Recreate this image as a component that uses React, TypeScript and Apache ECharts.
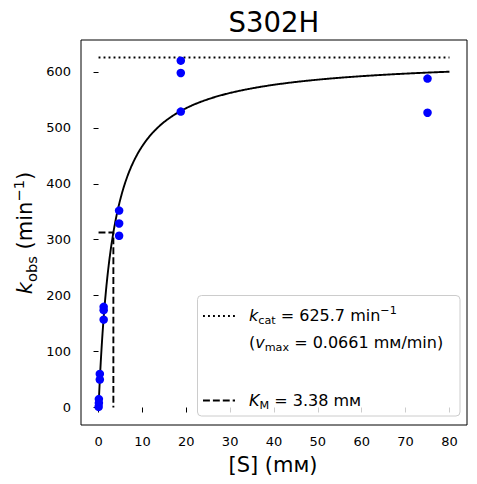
import React, { useEffect, useRef } from "react";
import * as echarts from "echarts";

// Measured data (substrate concentration in mM, observed rate in min^-1)
const substrateMM = [0.018, 0.073, 0.073, 0.29, 0.29, 1.17, 1.17, 1.17, 4.69, 4.69, 4.69, 18.75, 18.75, 18.75, 75, 75];
const kObsPerMin = [1, 8, 15, 50, 60, 180, 174, 157, 352, 329, 307, 620, 598, 529, 588, 527];

// Fitted Michaelis–Menten parameters (from the legend)
const kcat = 625.7;
const KM = 3.38;
const vmax = 0.0661;
const fitStart = 0;
const fitEnd = 80;
const fitSteps = 800;

const xTicks = [0, 10, 20, 30, 40, 50, 60, 70, 80];
const yTicks = [0, 100, 200, 300, 400, 500, 600];

const FONT = "DejaVu Sans";

export default function App() {
  const ref = useRef<HTMLDivElement>(null);

  useEffect(() => {
    if (!ref.current) return;
    const chart = echarts.init(ref.current, null, { renderer: "svg" });

    const fitData: number[][] = [];
    for (let i = 0; i <= fitSteps; i++) {
      const s = fitStart + ((fitEnd - fitStart) * i) / fitSteps;
      fitData.push([s, (kcat * s) / (KM + s)]);
    }
    const points = substrateMM.map((s, i) => [s, kObsPerMin[i]]);

    const yMin = -0.05 * kcat;
    const yMax = kcat * 1.05;

    const base = { fontFamily: FONT, fill: "#000" };
    const richFor = (fs: number, H: number) => ({
      n: { ...base, fontSize: fs, lineHeight: H },
      i: { ...base, fontSize: fs, lineHeight: H, fontStyle: "italic" },
      sub: { ...base, fontSize: fs * 0.7, lineHeight: H * 0.55, verticalAlign: "bottom" },
      sup: { ...base, fontSize: fs * 0.7, lineHeight: H * 0.5, verticalAlign: "top" },
    });

    const textEl = (text: string, x: number, y: number, fs: number, H: number, align: string, rotation = 0) => ({
      type: "text",
      x,
      y,
      rotation,
      silent: true,
      z: 100,
      style: {
        text,
        rich: richFor(fs, H),
        fontFamily: FONT,
        fontSize: fs,
        fill: "#000",
        align,
        verticalAlign: "middle",
        textAlign: align,
        textVerticalAlign: "middle",
      },
    });

    const option: any = {
      animation: false,
      backgroundColor: "#fff",
      grid: {
        left: 81,
        top: 40,
        width: 386,
        height: 385,
        show: true,
        borderColor: "#000",
        borderWidth: 1,
        backgroundColor: "transparent",
        containLabel: false,
        outerBoundsMode: "none",
      },
      xAxis: {
        type: "value",
        min: -4,
        max: 84,
        axisLine: { show: false },
        splitLine: { show: false },
        axisTick: {
          show: true,
          inside: false,
          length: 5,
          customValues: xTicks,
          lineStyle: { color: "#000", width: 1 },
        },
        axisLabel: {
          customValues: xTicks,
          color: "#000",
          fontSize: 13,
          fontFamily: FONT,
          margin: 10,
        },
      },
      yAxis: {
        type: "value",
        min: yMin,
        max: yMax,
        axisLine: { show: false },
        splitLine: { show: false },
        axisTick: {
          show: true,
          inside: false,
          length: 5,
          customValues: yTicks,
          lineStyle: { color: "#000", width: 1 },
        },
        axisLabel: {
          customValues: yTicks,
          color: "#000",
          fontSize: 13,
          fontFamily: FONT,
          margin: 10,
        },
      },
      series: [
        {
          type: "line",
          name: "fit",
          data: fitData,
          showSymbol: false,
          symbol: "none",
          silent: true,
          z: 3,
          lineStyle: { color: "#000", width: 1.9 },
        },
        {
          type: "line",
          name: "kcat",
          data: [[fitStart, kcat], [fitEnd, kcat]],
          symbol: "none",
          silent: true,
          z: 3,
          lineStyle: { color: "#000", width: 1.9, type: [1.9, 3.1] },
        },
        {
          type: "line",
          name: "KM",
          data: [[0, kcat / 2], [KM, kcat / 2], [KM, 0]],
          symbol: "none",
          silent: true,
          z: 3,
          lineStyle: { color: "#000", width: 1.9, type: [6.9, 3] },
        },
        {
          type: "scatter",
          name: "data",
          data: points,
          symbol: "circle",
          symbolSize: 8.5,
          silent: true,
          z: 5,
          itemStyle: { color: "#0000ff", opacity: 1 },
        },
      ],
      graphic: [
        textEl("{n|S302H}", 273.8, 22, 27.5, 34, "center"),
        textEl("{n|[S] (mᴍ)}", 273, 465, 21, 28, "center"),
        textEl("{i|k}{sub|obs}{n| (min}{sup|−1}{n|)}", 25, 233, 21, 28, "center", Math.PI / 2),
        {
          type: "rect",
          silent: true,
          z: 90,
          shape: { x: 197.5, y: 295.5, width: 262.5, height: 120.5, r: 4 },
          style: { fill: "rgba(255,255,255,0.8)", stroke: "#cccccc", lineWidth: 1 },
        },
        {
          type: "line",
          silent: true,
          z: 100,
          shape: { x1: 203, y1: 316, x2: 235, y2: 316 },
          style: { stroke: "#000", lineWidth: 1.9, lineDash: [1.9, 3.1] },
        },
        {
          type: "line",
          silent: true,
          z: 100,
          shape: { x1: 203, y1: 400.5, x2: 235, y2: 400.5 },
          style: { stroke: "#000", lineWidth: 1.9, lineDash: [6.9, 3] },
        },
        textEl(`{i|k}{sub|cat}{n| = ${kcat} min}{sup|−1}`, 249, 315.5, 16, 21, "left"),
        textEl(`{n|(}{i|v}{sub|max}{n| = ${vmax} mᴍ/min)}`, 249, 342, 16, 21, "left"),
        textEl(`{i|K}{sub|M}{n| = ${KM} mᴍ}`, 249, 400.5, 16, 21, "left"),
      ],
    };

    chart.setOption(option);
    return () => chart.dispose();
  }, []);

  return (
    <div
      ref={ref}
      style={{ position: "absolute", left: 0, top: 0, width: 477, height: 484, background: "#fff" }}
    />
  );
}
